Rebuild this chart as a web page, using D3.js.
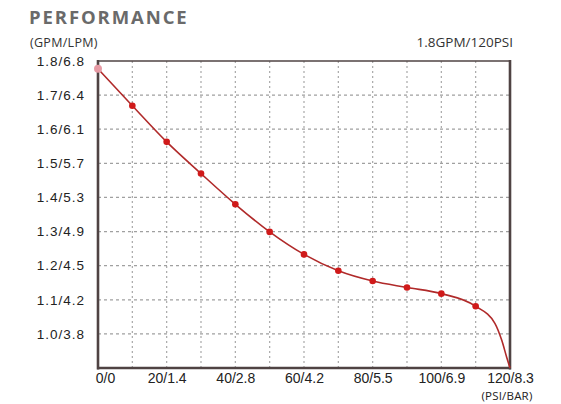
<!DOCTYPE html>
<html><head><meta charset="utf-8">
<script src="https://cdn.jsdelivr.net/npm/d3@7/dist/d3.min.js"></script>
<style>
html,body{margin:0;padding:0;background:#fff;}
svg{display:block;}
</style></head>
<body>
<script>
// Data
const xTickValues = [0, 20, 40, 60, 80, 100, 120];
const xTickLabels = ["0/0", "20/1.4", "40/2.8", "60/4.2", "80/5.5", "100/6.9", "120/8.3"];
const yTickValues = [1.0, 1.1, 1.2, 1.3, 1.4, 1.5, 1.6, 1.7, 1.8];
const yTickLabels = ["1.0/3.8", "1.1/4.2", "1.2/4.5", "1.3/4.9", "1.4/5.3", "1.5/5.7", "1.6/6.1", "1.7/6.4", "1.8/6.8"];
const pointPsi = [0, 10, 20, 30, 40, 50, 60, 70, 80, 90, 100, 110];
const pointGpm = [1.777, 1.669, 1.563, 1.470, 1.380, 1.299, 1.233, 1.185, 1.155, 1.136, 1.118, 1.081];
const tailPsi = [115.6, 117.6, 119.05, 120];
const tailGpm = [1.031, 0.981, 0.931, 0.9];

const W = 561, H = 404;
const pLeft = 98, pRight = 510, pTop = 61, pBottom = 368;

const svg = d3.select("body").append("svg").attr("width", W).attr("height", H);

const x = d3.scaleLinear().domain([0, 120]).range([pLeft, pRight]);
const y = d3.scaleLinear().domain([0.9, 1.8]).range([pBottom, pTop]);

// Title
svg.append("text").attr("x", 29).attr("y", 24)
  .attr("font-family", "Open Sans").attr("font-weight", "bold").attr("font-size", 18.5)
  .attr("letter-spacing", 1.9).attr("fill", "#6a6a6a").text("PERFORMANCE");

svg.append("text").attr("x", 30).attr("y", 47)
  .attr("font-family", "Open Sans").attr("font-size", 12.5)
  .attr("letter-spacing", 0.3).attr("fill", "#333").text("(GPM/LPM)");

svg.append("text").attr("x", 513).attr("y", 47).attr("text-anchor", "end")
  .attr("font-family", "Open Sans").attr("font-size", 13.5)
  .attr("fill", "#333").text("1.8GPM/120PSI");

// Grid
const gridX = d3.range(10, 120, 10);
const gridY = [1.0, 1.1, 1.2, 1.3, 1.4, 1.5, 1.6, 1.7];
const g = svg.append("g");
g.selectAll("line.vx").data(gridX).join("line")
  .attr("x1", d => x(d)).attr("x2", d => x(d)).attr("y1", pTop).attr("y2", pBottom)
  .attr("stroke", "#a8a8a8").attr("stroke-width", 1.2).attr("stroke-dasharray", "2,3");
g.selectAll("line.hy").data(gridY).join("line")
  .attr("x1", pLeft).attr("x2", pRight).attr("y1", d => y(d)).attr("y2", d => y(d))
  .attr("stroke", "#a0a0a0").attr("stroke-width", 1.2).attr("stroke-dasharray", "3,3");

// Axes
const xAxis = d3.axisBottom(x).tickValues(xTickValues)
  .tickFormat((d, i) => xTickLabels[i]).tickSize(0).tickPadding(5);
const gx = svg.append("g").attr("transform", `translate(0,${pBottom})`).call(xAxis);
gx.select(".domain").remove();
gx.selectAll("text").attr("font-family", "Liberation Sans, Arial").attr("font-size", 14)
  .attr("fill", "#222").attr("dy", "0.71em")
  .attr("dx", (d, i) => i === 0 ? 7 : 0);

const yAxis = d3.axisLeft(y).tickValues(yTickValues)
  .tickFormat((d, i) => yTickLabels[i]).tickSize(0).tickPadding(13);
const gy = svg.append("g").attr("transform", `translate(${pLeft},0)`).call(yAxis);
gy.select(".domain").remove();
gy.selectAll("text").attr("font-family", "Liberation Sans, Arial").attr("font-size", 13.5)
  .attr("letter-spacing", 1).attr("fill", "#222");

svg.append("text").attr("x", 507).attr("y", 400).attr("text-anchor", "middle")
  .attr("font-family", "Open Sans").attr("font-size", 11.5)
  .attr("letter-spacing", 0.2).attr("fill", "#222").text("(PSI/BAR)");

// Frame
const frame = "#4f4343";
svg.append("line").attr("x1", pLeft - 1).attr("x2", pRight).attr("y1", pTop).attr("y2", pTop)
  .attr("stroke", frame).attr("stroke-width", 1.6);
svg.append("line").attr("x1", pLeft).attr("x2", pLeft).attr("y1", pTop - 1).attr("y2", pBottom + 1.5)
  .attr("stroke", frame).attr("stroke-width", 2.6);
svg.append("line").attr("x1", pRight).attr("x2", pRight).attr("y1", pTop - 1).attr("y2", pBottom + 1.5)
  .attr("stroke", frame).attr("stroke-width", 2.6);
svg.append("line").attr("x1", pLeft - 1).attr("x2", pRight + 1).attr("y1", pBottom).attr("y2", pBottom)
  .attr("stroke", frame).attr("stroke-width", 2.6);

// Curve
const pts = pointPsi.map((p, i) => [p, pointGpm[i]])
  .concat(tailPsi.map((p, i) => [p, tailGpm[i]]));
const line = d3.line().x(d => x(d[0])).y(d => y(d[1])).curve(d3.curveMonotoneX);
svg.append("path").datum(pts).attr("d", line)
  .attr("fill", "none").attr("stroke", "#b02a2a").attr("stroke-width", 1.6);

svg.selectAll("circle.pt").data(pointPsi.map((p, i) => [p, pointGpm[i]])).join("circle")
  .attr("cx", d => x(d[0])).attr("cy", d => y(d[1]))
  .attr("r", (d, i) => i === 0 ? 4 : 3.3)
  .attr("fill", (d, i) => i === 0 ? "#e79aa4" : "#d01a1a");
</script>
</body></html>
